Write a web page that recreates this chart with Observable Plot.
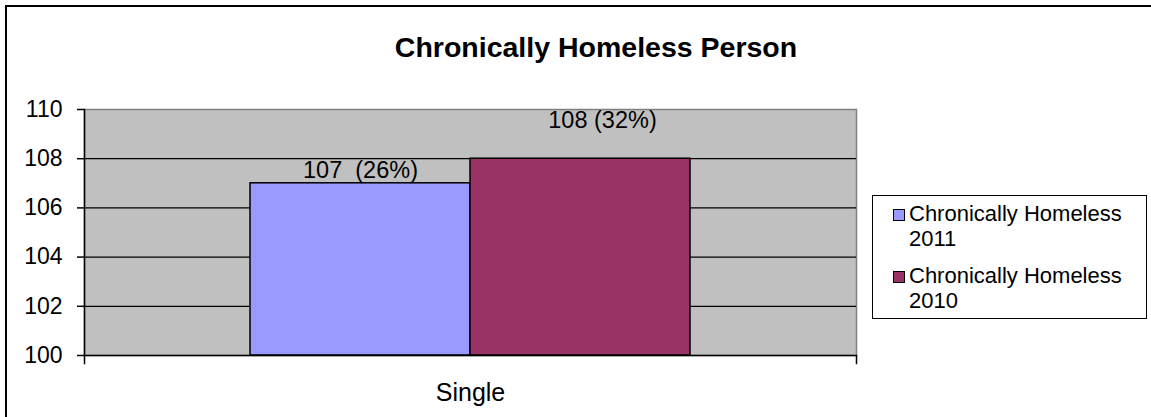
<!DOCTYPE html>
<html>
<head>
<meta charset="utf-8">
<script src="https://cdn.jsdelivr.net/npm/d3@7"></script>
<script src="https://cdn.jsdelivr.net/npm/@observablehq/plot@0.6"></script>
<style>
  html, body { margin: 0; padding: 0; background: #fff; }
  #wrap { position: relative; width: 1151px; height: 417px; overflow: hidden; font-family: "Liberation Sans", Arial, sans-serif; }
  #border { position: absolute; left: 5px; top: 5px; width: 1160px; height: 430px; border: 2px solid #000; box-sizing: border-box; }
  #title { position: absolute; left: 0; width: 1192px; top: 31px; text-align: center; font-size: 28.5px; font-weight: bold; color: #000; }
  #legend { position: absolute; left: 872px; top: 195px; width: 275px; height: 124px; border: 1px solid #000; box-sizing: border-box; background: #fff; }
  .item { position: absolute; left: 20px; font-size: 22px; line-height: 24.5px; color: #000; }
  .sw { position: absolute; left: 0; top: 7px; width: 10px; height: 10px; border: 1.5px solid #000; }
  .lt { position: absolute; left: 16px; top: 0; white-space: nowrap; }
  #chart { position: absolute; left: 0; top: 0; }
</style>
</head>
<body>
<div id="wrap">
  <div id="chart"></div>
  <div id="border"></div>
  <div id="title"></div>
  <div id="legend"></div>
</div>
<script>
const titleText = "Chronically Homeless Person";
const categories = ["Single"];
const seriesNames = ["Chronically Homeless 2011", "Chronically Homeless 2010"];
const legendLines = [["Chronically Homeless", "2011"], ["Chronically Homeless", "2010"]];
const seriesColors = ["#9999FF", "#993366"];
const values2011 = [107];
const values2010 = [108];
const labels2011 = ["107  (26%)"];
const labels2010 = ["108 (32%)"];
const yDomain = [100, 110];
const yTicks = [100, 102, 104, 106, 108, 110];
const yGrid = [102, 104, 106, 108];

const rows = [];
categories.forEach((c, i) => {
  rows.push({cat: c, series: seriesNames[0], value: values2011[i], label: labels2011[i]});
  rows.push({cat: c, series: seriesNames[1], value: values2010[i], label: labels2010[i]});
});

document.getElementById("title").textContent = titleText;

const chart = Plot.plot({
  width: 1151,
  height: 417,
  marginLeft: 84,
  marginRight: 295,
  marginTop: 109,
  marginBottom: 62,
  style: {fontFamily: "'Liberation Sans', Arial, sans-serif", color: "#000", background: "transparent"},
  fx: {domain: categories, padding: 0, axis: null},
  x: {domain: seriesNames, paddingInner: 0, paddingOuter: 0.747, axis: null},
  y: {domain: yDomain, axis: null},
  color: {domain: seriesNames, range: seriesColors},
  marks: [
    Plot.frame({fill: "#C0C0C0", stroke: null}),
    Plot.frame({stroke: "#808080", strokeWidth: 1.5}),
    Plot.gridY(yGrid, {stroke: "#000", strokeOpacity: 1, strokeWidth: 1.2}),
    Plot.barY(rows, {fx: "cat", x: "series", y1: () => yDomain[0], y2: "value", fill: "series", stroke: "#000", strokeWidth: 1.5}),
    Plot.ruleY([yDomain[0]], {stroke: "#000", strokeWidth: 1.5}),
    Plot.frame({anchor: "left", stroke: "#000", strokeWidth: 1.5, insetBottom: -8}),
    Plot.frame({anchor: "right", stroke: "#000", strokeWidth: 1.5, insetTop: 246, insetBottom: -8}),
    Plot.text(rows.filter(d => d.series === seriesNames[0]), {fx: "cat", x: "series", y: "value", text: "label", dy: -13, fontSize: 23.5, fill: "#000"}),
    Plot.text(rows.filter(d => d.series === seriesNames[1]), {fx: "cat", x: "series", y: "value", text: "label", dx: 22, dy: -38, fontSize: 23.5, fill: "#000"}),
    Plot.axisY({ticks: yTicks, tickSize: 7, tickPadding: 15, fontSize: 23, stroke: "#000", strokeWidth: 1.5, label: null}),
    Plot.axisFx({anchor: "bottom", tickSize: 0, tickPadding: 28, fontSize: 25, label: null})
  ]
});
document.getElementById("chart").appendChild(chart);

const legend = d3.select("#legend");
const tops = [6, 68];
seriesNames.forEach((s, i) => {
  const item = legend.append("div").attr("class", "item").style("top", tops[i] + "px");
  item.append("div").attr("class", "sw").style("background", seriesColors[i]);
  item.append("div").attr("class", "lt").html(legendLines[i].join("<br>"));
});
</script>
</body>
</html>
